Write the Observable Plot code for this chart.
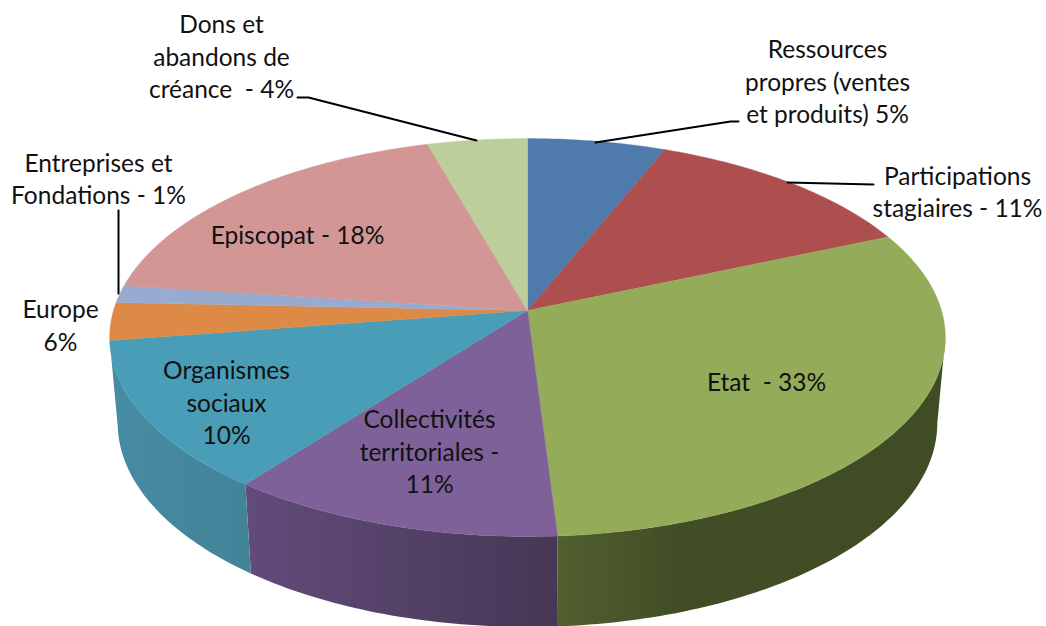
<!DOCTYPE html>
<html><head><meta charset="utf-8">
<script src="https://cdn.jsdelivr.net/npm/d3@7"></script>
<script src="https://cdn.jsdelivr.net/npm/@observablehq/plot@0.6"></script>
<style>html,body{margin:0;padding:0;background:#fff}svg{display:block}</style>
</head><body><div id="chart"></div>
<script>
// Data: slice names, printed labels, shares (clockwise from the top)
const names = ["Ressources propres","Participations stagiaires","Etat","Collectivités territoriales","Organismes sociaux","Europe","Entreprises et Fondations","Episcopat","Dons et abandons de créance"];
const shares = [6.1,12.4,30.5,11.4,12.2,3.05,1.4,18.55,4.4];
const topColors = ["#4e7bac","#ad4f4e","#94ab5a","#7d6198","#4a9db7","#dc8a45","#97abd1","#d29695","#bccf9b"];
const labels = ["Ressources\npropres (ventes\net produits) 5%","Participations\nstagiaires - 11%","Etat  - 33%","Collectivités\nterritoriales -\n11%","Organismes\nsociaux\n10%","Europe\n6%","Entreprises et\nFondations - 1%","Episcopat - 18%","Dons et\nabandons de\ncréance  - 4%"];

// Layout (separate from the data)
const W = 1046, H = 626;
const labelX = [827,957,766,429,226,60,98,297,221];
const labelY = [80,190,380.5,450,401,323.5,177,233,55];
const leaders = [
  [[738,121],[730,121],[595,142]],
  [[873,184],[787,182]],
  [[118,210],[118,293]],
  [[297,97],[308,97],[476,140]]
];
const K = 0.1357;
const topDisc = {cx:527, cy:310, rx:414, ry:195.3};
const lowDisc = {cx:527, cy:395, rx:406, ry:200};
const sideVisible = [97.8, 262.2];
const sideGradients = {
  2:[[0,"#52602f"],[0.32,"#414d25"],[1,"#404c24"]],
  3:[[0,"#614c7a"],[1,"#473655"]],
  4:[[0,"#468ca2"],[1,"#428398"]]
};

const rad = d => d*Math.PI/180;
function project(deg, d, r=1){
  const u = r*Math.sin(rad(deg)), v = -r*Math.cos(rad(deg)), f = 1/(1-K*v);
  return {px:d.cx+d.rx*u*f, py:d.cy+d.ry*v*f};
}
function arc(a,b){ const n=Math.max(2,Math.ceil(Math.abs(b-a))); return d3.range(n+1).map(i=>a+(b-a)*i/n); }

let acc=0;
const total=d3.sum(shares);
const slices=shares.map((s,i)=>{const a=acc/total*360; acc+=s; return {i,name:names[i],a,b:acc/total*360,color:topColors[i]};});

const faceMarks = slices.map(s=>Plot.line(
  [{px:topDisc.cx,py:topDisc.cy},...arc(s.a,s.b).map(t=>project(t,topDisc)),{px:topDisc.cx,py:topDisc.cy}],
  {x:"px",y:"py",fill:s.color,stroke:s.color,strokeWidth:0.4,curve:"linear"}));

const sideMarks = slices.filter(s=>sideGradients[s.i]).map(s=>{
  const a=Math.max(s.a,sideVisible[0]), b=Math.min(s.b,sideVisible[1]);
  const pts=[...arc(a,b).map(t=>project(t,topDisc)),...arc(b,a).map(t=>project(t,lowDisc))];
  return Plot.line([...pts,pts[0]],{x:"px",y:"py",fill:`url(#side${s.i})`,stroke:"none",curve:"linear"});
});

const leaderMarks = leaders.map(l=>Plot.line(l,{x:d=>d[0],y:d=>d[1],stroke:"#000",strokeWidth:2,curve:"linear"}));

const textData = labels.map((t,i)=>({t,x:labelX[i],y:labelY[i]}));

const plot = Plot.plot({
  width:W,height:H,margin:0,
  x:{domain:[0,W],range:[0,W],axis:null},
  y:{domain:[0,H],range:[0,H],axis:null},
  style:{background:"#fff"},
  marks:[
    ...sideMarks,
    ...faceMarks,
    ...leaderMarks,
    Plot.text(textData,{x:"x",y:"y",text:"t",fontSize:24.5,lineHeight:1.327,fontFamily:"Lato",fill:"#111",textAnchor:"middle"})
  ]
});
const defs=d3.select(plot).insert("defs",":first-child");
for(const [i,stops] of Object.entries(sideGradients)){
  const g=defs.append("linearGradient").attr("id","side"+i).attr("x1",0).attr("x2",1).attr("y1",0).attr("y2",0);
  stops.forEach(([o,c])=>g.append("stop").attr("offset",o).attr("stop-color",c));
}
document.getElementById("chart").append(plot);
</script></body></html>
